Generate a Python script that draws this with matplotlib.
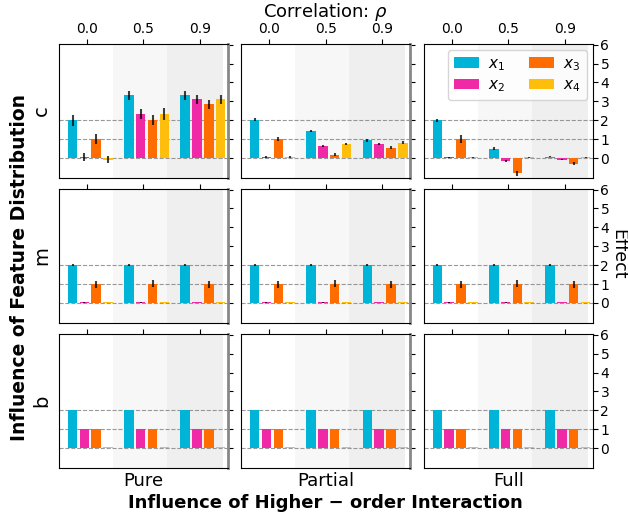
import numpy as np
import matplotlib
matplotlib.use("Agg")
import matplotlib.pyplot as plt

rhos = ["0.0", "0.5", "0.9"]
rows = ["c", "m", "b"]
cols = ["Pure", "Partial", "Full"]
feats = ["$x_1$", "$x_2$", "$x_3$", "$x_4$"]
colors = ["#00B4D8", "#F02AA6", "#FF6D00", "#FFBE0B"]

# effect[row][col][rho] = [x1, x2, x3, x4]
c_pure = [[2.0, 0.05, 1.0, -0.08], [3.32, 2.32, 2.0, 2.32], [3.32, 3.1, 2.84, 3.1]]
c_pure_err = [[0.3, 0.2, 0.25, 0.2], [0.25, 0.25, 0.25, 0.3], [0.25, 0.25, 0.25, 0.25]]
c_part = [[2.02, 0.04, 1.02, 0.04], [1.44, 0.65, 0.18, 0.75], [0.93, 0.75, 0.54, 0.8]]
c_part_err = [[0.08, 0.05, 0.1, 0.05], [0.06, 0.05, 0.08, 0.07], [0.06, 0.05, 0.07, 0.08]]
c_full = [[2.0, 0.03, 1.0, 0.04], [0.49, -0.18, -0.82, 0.04], [0.07, -0.09, -0.3, 0.03]]
c_full_err = [[0.08, 0.03, 0.2, 0.02], [0.08, 0.05, 0.15, 0.02], [0.04, 0.04, 0.08, 0.02]]
m_vals = [[2.0, 0.04, 0.98, 0.04], [2.0, 0.04, 1.02, 0.04], [2.0, 0.05, 0.98, 0.04]]
m_err = [[0.06, 0.02, 0.2, 0.01], [0.06, 0.02, 0.2, 0.01], [0.06, 0.02, 0.2, 0.01]]
b_vals = [[2.0, 1.0, 1.0, 0.04], [2.0, 1.0, 1.0, 0.04], [2.0, 1.0, 1.0, 0.04]]
b_err = [[0.0, 0.0, 0.0, 0.0], [0.0, 0.0, 0.0, 0.0], [0.0, 0.0, 0.0, 0.0]]

effects = [[c_pure, c_part, c_full], [m_vals, m_vals, m_vals], [b_vals, b_vals, b_vals]]
errors = [[c_pure_err, c_part_err, c_full_err], [m_err, m_err, m_err], [b_err, b_err, b_err]]

offsets = [-0.26, -0.05, 0.16, 0.37]
width = 0.17

fig = plt.figure(figsize=(6.28, 5.14), dpi=100)

lefts = [0.094, 0.384, 0.675]
bottoms = [0.654, 0.372, 0.0895]
w, h = 0.269, 0.261

for r in range(3):
    for c in range(3):
        ax = fig.add_axes([lefts[c], bottoms[r], w, h])
        ax.axvspan(0.46, 1.42, color="#f7f7f7", zorder=0, lw=0)
        ax.axvspan(1.42, 2.41, color="#efefef", zorder=0, lw=0)
        for yl in [0, 1, 2]:
            ax.axhline(yl, color="gray", ls="--", lw=0.8, alpha=0.8, zorder=1)
        vals = np.array(effects[r][c])
        errs = np.array(errors[r][c])
        for i in range(4):
            x = np.arange(3) + offsets[i]
            ax.bar(x, vals[:, i], width, color=colors[i], label=feats[i], zorder=2)
            if errs[:, i].max() > 0:
                ax.errorbar(x, vals[:, i], yerr=errs[:, i], fmt="none",
                            ecolor="black", elinewidth=1.5, alpha=0.75, zorder=3)
        ax.set_xlim(-0.5, 2.5)
        ax.set_ylim(-1.05, 6.05)
        ax.set_xticks([0, 1, 2])
        ax.tick_params(axis="x", top=True, bottom=False, labeltop=(r == 0),
                       labelbottom=False, labelsize=10, direction="out", pad=2)
        if r == 0:
            ax.set_xticklabels(rhos)
        ax.set_yticks(range(7))
        ax.tick_params(axis="y", left=False, labelleft=False, right=True,
                       labelright=(c == 2), labelsize=10, pad=2)
        if c < 2:
            ax.spines["right"].set_color("#888888")
            ax.spines["right"].set_linewidth(2)
        if r == 0 and c == 2:
            ax.legend(loc="upper right", ncol=2, fontsize=11, handlelength=1.6,
                      handletextpad=0.6, columnspacing=1.6, borderaxespad=0.4,
                      labelspacing=0.3)

fig.text(0.518, 0.976, r"Correlation: $\rho$", ha="center", va="center", fontsize=13)
for r in range(3):
    fig.text(0.066, bottoms[r] + h / 2, rows[r], rotation=90, ha="center",
             va="center", fontsize=14)
for c in range(3):
    fig.text(lefts[c] + w / 2, 0.064, cols[c], ha="center", va="center", fontsize=13)
fig.text(0.031, 0.48, "Influence of Feature Distribution", rotation=90, ha="center",
         va="center", fontsize=13.5, fontweight="bold")
fig.text(0.518, 0.021, "Influence of Higher \u2212 order Interaction", ha="center",
         va="center", fontsize=13, fontweight="bold")
fig.text(0.984, 0.505, "Effect", rotation=270, ha="center", va="center", fontsize=12.5)

fig.savefig("out.png", dpi=100)
